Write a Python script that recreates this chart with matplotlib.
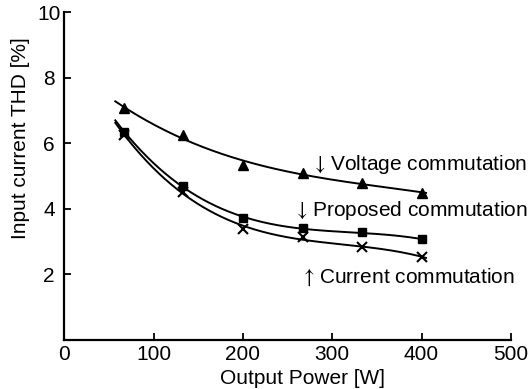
import numpy as np
import matplotlib
matplotlib.use("Agg")
import matplotlib.pyplot as plt

plt.rcParams['font.family'] = ['Liberation Sans', 'DejaVu Sans']
plt.rcParams['mathtext.fontset'] = 'stix'

# Data
power = [66.7, 133.3, 200, 266.7, 333.3, 400]
thd_voltage = [7.07, 6.25, 5.33, 5.09, 4.78, 4.49]
thd_proposed = [6.35, 4.70, 3.71, 3.40, 3.28, 3.07]
thd_current = [6.25, 4.52, 3.38, 3.13, 2.83, 2.54]

x_ticks = [0, 100, 200, 300, 400, 500]
y_ticks = [2, 4, 6, 8, 10]

fig = plt.figure(figsize=(5.31, 3.89), dpi=100)
ax = fig.add_axes([0.1213, 0.126, 0.8407, 0.843])

# Trend lines (polynomial fit through the measured points)
xs = np.linspace(57, 405, 200)
for y, mk, ms in [(thd_voltage, '^', 7), (thd_proposed, 's', 6), (thd_current, 'x', 7)]:
    coef = np.polyfit(power, y, 3)
    ax.plot(xs, np.polyval(coef, xs), color='black', lw=1.4)
    ax.plot(power, y, linestyle='none', marker=mk, color='black', markersize=ms,
            markeredgewidth=1.5 if mk == 'x' else 1)

# Curve labels
ax.text(276, 5.34, r'$\downarrow\,$Voltage commutation', fontsize=15, va='center', ha='left')
ax.text(256, 3.94, r'$\downarrow\,$Proposed commutation', fontsize=15, va='center', ha='left')
ax.text(264, 1.9, r'$\uparrow\,$Current commutation', fontsize=15, va='center', ha='left')

ax.set_xlim(0, 500)
ax.set_ylim(0, 10)
ax.set_xticks(x_ticks)
ax.set_yticks(y_ticks)
ax.tick_params(direction='in', length=5, width=1.3, labelsize=15)
ax.tick_params(axis='y', pad=11)
for lbl in ax.get_yticklabels():
    lbl.set_ha('center')

ax.spines['top'].set_visible(False)
ax.spines['right'].set_visible(False)
ax.spines['left'].set_linewidth(1.6)
ax.spines['bottom'].set_linewidth(1.6)

ax.set_xlabel('Output Power [W]', fontsize=15, labelpad=0)
ax.xaxis.set_label_coords(0.534, -0.09)
ax.set_ylabel('Input current THD [%]', fontsize=15)
ax.yaxis.set_label_coords(-0.077, 0.616)

fig.savefig('out.png', dpi=100)
